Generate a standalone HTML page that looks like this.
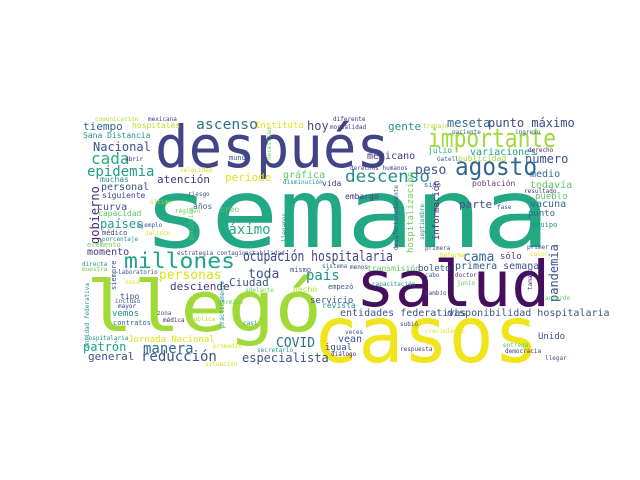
<!DOCTYPE html>
<html><head><meta charset="utf-8"><title>Word cloud</title>
<style>
html,body{margin:0;padding:0;background:#fff;}
svg{display:block;}
text{font-family:"DejaVu Sans Mono","Liberation Mono",monospace;}
</style></head>
<body>
<svg id="cloud" width="640" height="480" viewBox="0 0 640 480">
<rect x="0" y="0" width="640" height="480" fill="#fff"/>
<g id="words"></g>
</svg>
<script>
// [word, x, baselineY, fontSize, color, vertical, textLength]
const wordList = [
["después",155,167,58,"#414487",0,235],
["semana",143,247,96,"#22a884",0,407],
["llegó",86,331,70,"#a0da39",0,236],
["salud",356,306,63,"#440f5d",0,194],
["casos",313,362,78,"#f0e51d",0,226],
["importante",428,147,26,"#a0da39",0,128],
["agosto",455,175,25,"#31688e",0,82],
["millones",124,268,21,"#20a386",0,111],
["ocupación hospitalaria",243,261,14,"#414487",0,150],
["descenso",345,182,17,"#21918c",0,85],
["ascenso",196,129,14,"#2c728e",0,62],
["comunicación",95,121,6,"#b5de2b",0,0],
["mexicana",148,121,6,"#46327e",0,0],
["tiempo",83,130,11,"#31688e",0,0],
["hospitales",132,128,8,"#b8de29",0,0],
["Instituto",255,128,9,"#dde318",0,0],
["hoy",307,130,12,"#3e4a89",0,0],
["Sana Distancia",83,138,8,"#21918c",0,0],
["Nacional",93,151,12,"#3b528b",0,0],
["cada",91,164,16,"#25ab82",0,0],
["abrir",125,161,6,"#482878",0,0],
["mundo",229,160,7,"#3b528b",0,0],
["epidemia",87,176,14,"#1f9e89",0,0],
["atención",157,183,11,"#443983",0,0],
["periodo",225,181,11,"#dde318",0,0],
["gráfica",283,178,10,"#5ec962",0,0],
["velocidad",180,172,6,"#dde318",0,0],
["muchas",100,182,8,"#21918c",0,0],
["personal",101,190,10,"#3b528b",0,0],
["disminución",283,184,6,"#21918c",0,0],
["gobierno",99,244,12,"#482878",1,0],
["siguiente",102,198,8,"#414487",0,0],
["riesgo",188,196,6,"#3b528b",0,0],
["curva",97,210,10,"#3b528b",0,0],
["último",150,204,6,"#b5de2b",0,0],
["años",193,209,8,"#355f8d",0,0],
["régimen",175,213,6,"#6ece58",0,0],
["creo",220,212,8,"#5ec962",0,0],
["capacidad",98,216,8,"#5ec962",0,0],
["países",100,228,12,"#1f9e89",0,0],
["máximo",220,234,14,"#25ab82",0,0],
["ejemplo",137,227,6,"#3b528b",0,0],
["médico",102,235,7,"#443983",0,0],
["Jalisco",145,235,6,"#dde318",0,0],
["porcentaje",102,241,6,"#21918c",0,0],
["periódico",193,240,6,"#5ec962",1,0],
["llegamos",286,242,6,"#21918c",1,0],
["diferente",333,121,6,"#46327e",0,0],
["mortalidad",330,129,6,"#46327e",0,0],
["gente",388,130,11,"#21918c",0,0],
["trabajo",423,128,6,"#b5de2b",0,0],
["meseta",447,127,12,"#31688e",0,0],
["punto máximo",488,127,12,"#3e4a89",0,0],
["paciente",452,134,6,"#31688e",0,0],
["ingreso",515,134,6,"#31688e",0,0],
["julio",428,153,8,"#25ab82",0,0],
["variaciones",470,155,10,"#1f9e89",0,0],
["derecho",528,152,6,"#482878",0,0],
["mexicano",367,159,10,"#443983",0,0],
["Gatell",437,161,6,"#31688e",0,0],
["publicidad",458,161,8,"#a0da39",0,0],
["número",525,163,12,"#3b528b",0,0],
["peso",415,174,13,"#3b528b",0,0],
["medio",530,177,10,"#31688e",0,0],
["derechos humanos",350,170,6,"#3e4a89",0,0],
["vida",322,186,8,"#443983",0,0],
["sido",424,187,7,"#31688e",0,0],
["población",472,186,8,"#6a3d8a",0,0],
["todavía",530,188,10,"#5ec962",0,0],
["resultado",524,193,6,"#443983",0,0],
["pueblo",535,199,9,"#5ec962",0,0],
["embargo",345,199,8,"#443983",0,0],
["parte",459,208,11,"#3b528b",0,0],
["fase",497,209,6,"#3b528b",0,0],
["vacuna",530,207,10,"#31688e",0,0],
["punto",528,216,9,"#31688e",0,0],
["equipo",532,227,7,"#21918c",0,0],
["hospitalización",413,253,9,"#6ece58",1,0],
["información",439,240,9,"#5b2d84",1,0],
["desafortunadamente",398,250,6,"#3b528b",1,0],
["septiembre",424,240,6,"#21918c",1,0],
["necesitan",271,160,6,"#6ece58",1,0],
["momento",87,255,10,"#443983",0,0],
["estrategia contagio",177,255,6,"#3e4a89",0,0],
["estabilidad",245,255,6,"#3b528b",0,0],
["elemento",87,247,7,"#6ece58",0,0],
["directa",82,266,6,"#21918c",0,0],
["muestra",82,271,6,"#6ece58",0,0],
["siempre",116,290,7,"#3b528b",1,0],
["laboratorio",118,274,6,"#3b528b",0,0],
["mismo",290,272,7,"#3b528b",0,0],
["personas",159,279,13,"#dde318",0,0],
["toda",248,278,13,"#3b528b",0,0],
["país",306,280,14,"#21918c",0,0],
["desciende",170,290,11,"#443983",0,0],
["Ciudad",229,286,11,"#3b528b",0,0],
["cosa",125,284,6,"#dde318",0,0],
["hecho",293,292,8,"#b5de2b",0,0],
["adelante",245,292,6,"#6ece58",0,0],
["tipo",120,299,8,"#3b528b",0,0],
["servicio",310,303,9,"#3b528b",0,0],
["incluso",115,303,6,"#3b528b",0,0],
["mayor",118,308,6,"#443983",0,0],
["vemos",112,316,9,"#21918c",0,0],
["permiso",218,304,6,"#6ece58",0,0],
["zona",157,315,6,"#3b528b",0,0],
["médica",163,322,6,"#482878",0,0],
["pública",190,321,6,"#b5de2b",0,0],
["contratos",113,325,7,"#31688e",0,0],
["casi",243,325,6,"#21918c",0,0],
["prácticamente",224,328,6,"#21918c",1,0],
["entidad federativa",89,348,6,"#21918c",1,0],
["hospitalaria",85,340,6,"#21918c",0,0],
["Jornada Nacional",128,342,9,"#dde318",0,0],
["patrón",83,351,12,"#20a386",0,0],
["manera",143,353,14,"#31688e",0,0],
["promedio",213,348,6,"#dde318",0,0],
["COVID",276,347,13,"#2c728e",0,0],
["secretario",257,352,6,"#21918c",0,0],
["general",88,360,11,"#3b528b",0,0],
["reducción",141,361,14,"#3b528b",0,0],
["especialista",242,362,12,"#3b528b",0,0],
["situación",205,366,6,"#dde318",0,0],
["cama",463,261,13,"#31688e",0,0],
["sólo",500,259,9,"#443983",0,0],
["primer",527,249,6,"#3b528b",0,0],
["color",530,256,6,"#dde318",0,0],
["primera",425,250,6,"#3b528b",0,0],
["Reforma",440,257,6,"#dde318",0,0],
["pandemia",558,302,12,"#3b528b",1,0],
["primera semana",455,269,10,"#3b528b",0,0],
["sistema",322,268,6,"#31688e",0,0],
["menos",350,269,6,"#443983",0,0],
["transmisión",367,271,8,"#5ec962",0,0],
["boleto",418,271,9,"#3b528b",0,0],
["cabo",425,277,6,"#3b528b",0,0],
["doctor",455,277,6,"#443983",0,0],
["empezó",328,289,7,"#3b528b",0,0],
["capacitación",372,286,6,"#21918c",0,0],
["junio",457,285,6,"#5ec962",0,0],
["tamaño",532,290,6,"#482878",1,0],
["cambio",425,295,6,"#3b528b",0,0],
["acuerdo",545,300,6,"#5ec962",0,0],
["revista",322,308,8,"#21918c",0,0],
["entidades federativas",340,316,10,"#3b528b",0,0],
["disponibilidad hospitalaria",447,316,10,"#3b528b",0,0],
["subió",400,326,6,"#443983",0,0],
["veces",345,334,6,"#3b528b",0,0],
["crecimiento",425,333,6,"#dde318",0,0],
["vean",338,342,10,"#3b528b",0,0],
["Unido",538,339,9,"#3b528b",0,0],
["igual",325,350,9,"#3b528b",0,0],
["diálogo",331,356,6,"#482878",0,0],
["respuesta",400,351,6,"#443983",0,0],
["entrega",503,347,6,"#5ec962",0,0],
["democracia",505,353,6,"#443983",0,0],
["llegar",545,360,6,"#3b528b",0,0]
];
const g = document.getElementById('words');
const NS = 'http://www.w3.org/2000/svg';
for (const w of wordList) {
  const t = document.createElementNS(NS, 'text');
  t.textContent = w[0];
  t.setAttribute('x', w[1]);
  t.setAttribute('y', w[2]);
  t.setAttribute('font-size', w[3]);
  t.setAttribute('fill', w[4]);
  if (w[5]) t.setAttribute('transform', 'rotate(-90 ' + w[1] + ' ' + w[2] + ')');
  if (w[6]) { t.setAttribute('textLength', w[6]); t.setAttribute('lengthAdjust', 'spacingAndGlyphs'); }
  
  
  g.appendChild(t);
}
</script>
</body></html>
